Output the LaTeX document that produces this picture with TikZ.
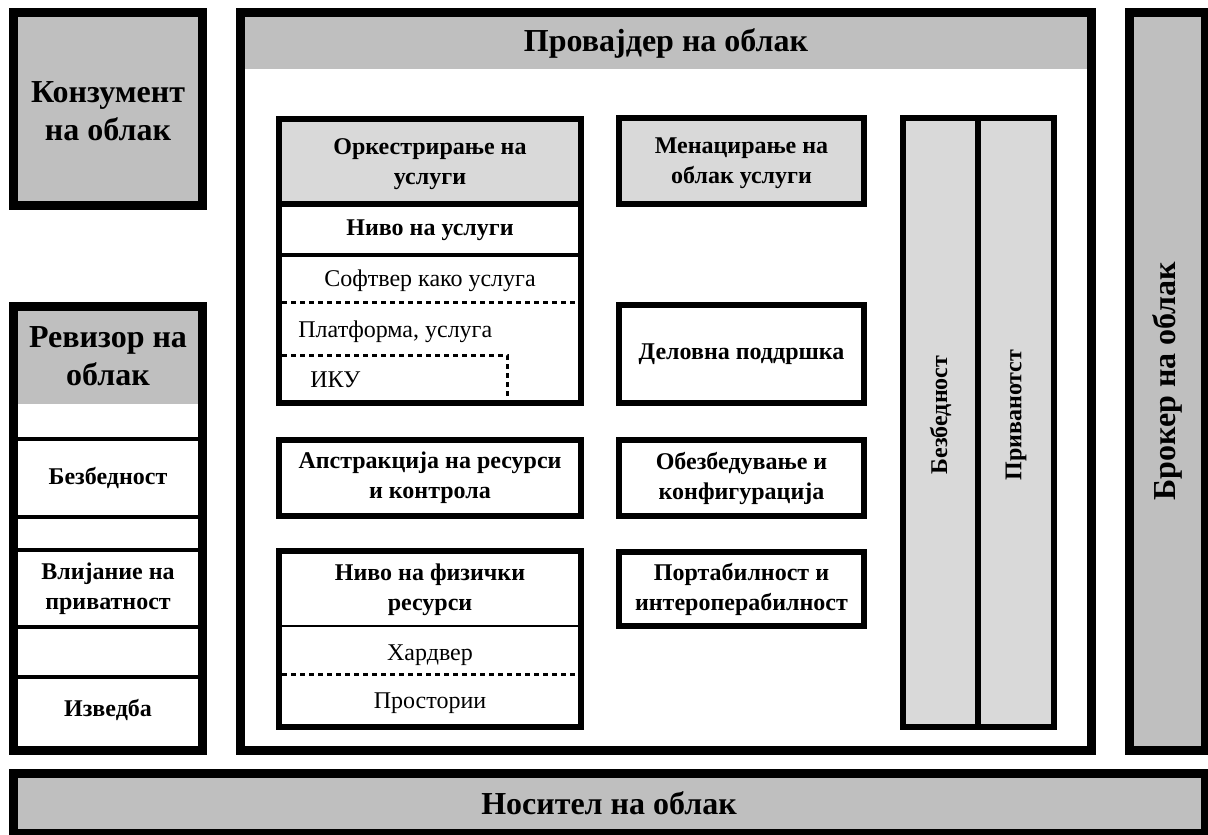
\documentclass[tikz,border=0pt]{standalone}
\usepackage{fontspec}
\setmainfont{Liberation Serif}
\definecolor{darkfill}{HTML}{BFBFBF}
\definecolor{lightfill}{HTML}{D9D9D9}
\begin{document}
\begin{tikzpicture}[x=0.5pt,y=-0.5pt]
	% Styles
	\tikzset{bigbox/.style={draw=black, line width=4.5pt},
		smallbox/.style={draw=black, line width=3pt},
		sepline/.style={line width=2pt},
		dotline/.style={line width=1.5pt, dash pattern=on 2.5pt off 2pt},
		headtext/.style={font=\fontsize{16}{19}\selectfont\bfseries, align=center, inner sep=0pt},
		boxtext/.style={font=\fontsize{12}{15}\selectfont\bfseries, align=center, inner sep=0pt},
		lighttext/.style={font=\fontsize{12}{14}\selectfont, inner sep=0pt}}
	\useasboundingbox (0,0) rectangle (1208,834);
	
	% Consumer
	\filldraw[bigbox, fill=darkfill] (13.5,12.5) rectangle (202.5,205.5);
	\node[headtext] (consumer) at (108,111) {Конзумент\\на облак};
	
	% Auditor
	\draw[bigbox] (13.5,306.5) rectangle (202.5,750.5);
	\fill[darkfill] (18,311) rectangle (198,404);
	\foreach \y in {439,517,550,627,677}
		\draw[sepline] (18,\y) -- (198,\y);
	\node[headtext] (auditor) at (108,356) {Ревизор на\\облак};
	\node[boxtext] (audsec) at (108,478) {Безбедност};
	\node[boxtext] (audpriv) at (108,589) {Влијание на\\приватност};
	\node[boxtext] (audperf) at (108,710) {Изведба};
	
	% Provider
	\draw[bigbox] (240.5,12.5) rectangle (1091.5,750.5);
	\fill[darkfill] (245,17) rectangle (1087,69);
	\node[headtext] (provider) at (666,43) {Провајдер на облак};
	
	% Service orchestration
	\fill[lightfill] (282,122) rectangle (578,201);
	\draw[smallbox] (279,119) rectangle (581,403);
	\draw[smallbox] (282,204) -- (578,204);
	\draw[sepline] (282,255) -- (578,255);
	\draw[dotline] (282,302) -- (578,302);
	\draw[dotline] (282,355) -- (507,355) -- (507,402);
	\node[boxtext] (orch) at (430,164) {Оркестрирање на\\услуги};
	\node[boxtext] (svclevel) at (430,230) {Ниво на услуги};
	\node[lighttext] (saas) at (430,281) {Софтвер како услуга};
	\node[lighttext, anchor=west] (paas) at (298,332) {Платформа, услуга};
	\node[lighttext, anchor=west] (iaas) at (310,380) {ИКУ};
	
	\draw[smallbox] (279,440) rectangle (581,516);
	\node[boxtext] (abstr) at (430,478) {Апстракција на ресурси\\и контрола};
	
	\draw[smallbox] (279,551) rectangle (581,727);
	\draw[line width=1pt] (282,626) -- (578,626);
	\draw[dotline] (282,674) -- (578,674);
	\node[boxtext] (phys) at (430,590) {Ниво на физички\\ресурси};
	\node[lighttext] (hw) at (430,655) {Хардвер};
	\node[lighttext] (fac) at (430,703) {Простории};
	
	% Service management
	\filldraw[smallbox, fill=lightfill] (619,118) rectangle (864,204);
	\node[boxtext] (mgmt) at (741.5,163) {Менацирање на\\облак услуги};
	\draw[smallbox] (619,305) rectangle (864,403);
	\node[boxtext] (bizsup) at (741.5,354) {Деловна поддршка};
	\draw[smallbox] (619,440) rectangle (864,516);
	\node[boxtext] (prov) at (741.5,478) {Обезбедување и\\конфигурација};
	\draw[smallbox] (619,552) rectangle (864,626);
	\node[boxtext] (port) at (741.5,589) {Портабилност и\\интероперабилност};
	
	% Security and privacy columns
	\filldraw[smallbox, fill=lightfill] (903,118) rectangle (1054,727);
	\draw[smallbox] (978,118) -- (978,727);
	\node[boxtext, rotate=90] (colsec) at (940.5,415) {Безбедност};
	\node[boxtext, rotate=90] (colpriv) at (1016,415) {Приванотст};
	
	% Broker
	\filldraw[bigbox, fill=darkfill] (1129.5,12.5) rectangle (1205.5,750.5);
	\node[headtext, rotate=90] (broker) at (1167,381) {Брокер на облак};
	
	% Carrier
	\filldraw[bigbox, fill=darkfill] (13.5,773.5) rectangle (1205.5,833.5);
	\node[headtext] (carrier) at (609,803) {Носител на облак};
\end{tikzpicture}
\end{document}
